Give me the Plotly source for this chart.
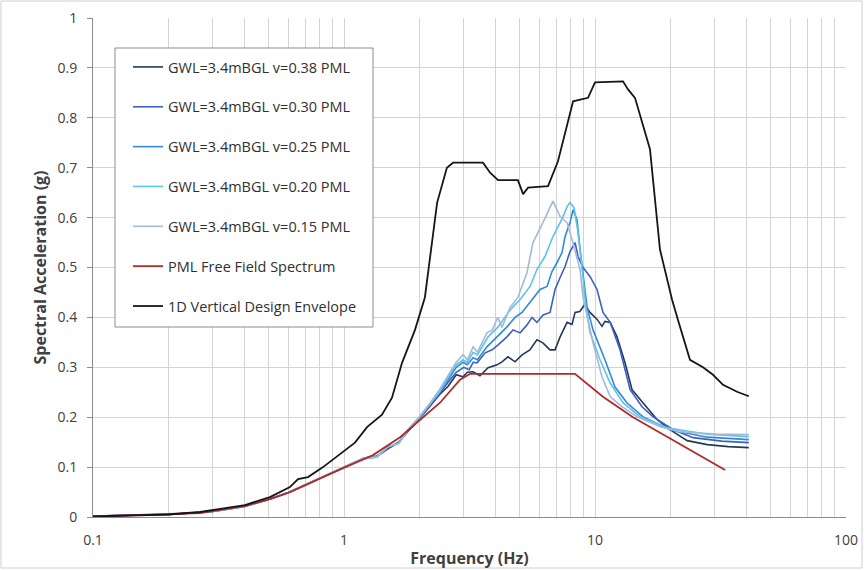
import plotly.graph_objects as go

# ---------------- data ----------------
F_038 = [0.1, 0.2, 0.3, 0.4, 0.5, 0.6, 0.7, 0.8, 1.0, 1.2, 1.35, 1.5, 1.65, 1.8, 2.0, 2.2, 2.4, 2.6,
         2.8, 2.98, 3.1, 3.27, 3.48, 3.75, 4.07, 4.26, 4.5, 4.8, 5.12, 5.5, 5.87, 6.2, 6.62, 6.93,
         7.26, 7.74, 8.1, 8.33, 8.7, 9.1, 9.55, 10.2, 10.66, 10.96, 11.5, 12.24, 13.17, 14.05,
         14.84, 16.1, 17.7, 19.9, 23.3, 28.0, 34.0, 41.0]
SA_038 = [0.002, 0.005, 0.011, 0.021, 0.035, 0.049, 0.064, 0.077, 0.099, 0.117, 0.121, 0.137, 0.149,
          0.172, 0.197, 0.222, 0.245, 0.262, 0.285, 0.281, 0.29, 0.291, 0.283, 0.299, 0.305, 0.311,
          0.321, 0.311, 0.325, 0.335, 0.355, 0.349, 0.335, 0.335, 0.361, 0.39, 0.386, 0.41, 0.412,
          0.426, 0.41, 0.396, 0.382, 0.392, 0.39, 0.361, 0.309, 0.255, 0.241, 0.219, 0.195, 0.175,
          0.153, 0.145, 0.141, 0.139]

F_030 = [0.1, 0.2, 0.3, 0.4, 0.5, 0.6, 0.7, 0.8, 1.0, 1.2, 1.35, 1.5, 1.65, 1.8, 2.0, 2.2, 2.4, 2.6,
         2.8, 3.0, 3.15, 3.27, 3.39, 3.65, 3.89, 4.11, 4.46, 4.71, 5.03, 5.36, 5.61, 5.87, 6.21,
         6.62, 6.93, 7.26, 7.6, 7.95, 8.33, 8.56, 8.96, 9.55, 10.19, 10.76, 11.5, 12.58, 13.8,
         15.4, 17.0, 20.5, 24.6, 32.0, 41.0]
SA_030 = [0.002, 0.005, 0.011, 0.021, 0.035, 0.049, 0.064, 0.077, 0.099, 0.118, 0.122, 0.139, 0.15,
          0.173, 0.198, 0.223, 0.247, 0.27, 0.29, 0.3, 0.295, 0.31, 0.309, 0.329, 0.335, 0.345,
          0.361, 0.375, 0.369, 0.385, 0.4, 0.39, 0.405, 0.41, 0.456, 0.48, 0.502, 0.532, 0.55,
          0.522, 0.5, 0.482, 0.456, 0.41, 0.39, 0.335, 0.255, 0.221, 0.201, 0.175, 0.159, 0.152,
          0.149]

F_025 = [0.1, 0.2, 0.3, 0.4, 0.5, 0.6, 0.7, 0.8, 1.0, 1.2, 1.35, 1.5, 1.65, 1.8, 2.0, 2.2, 2.4, 2.6,
         2.8, 2.98, 3.1, 3.27, 3.4, 3.71, 4.07, 4.46, 4.8, 5.12, 5.5, 6.04, 6.44, 6.74, 7.06, 7.39,
         7.6, 7.95, 8.18, 8.48, 8.72, 8.96, 9.3, 9.82, 10.96, 12.0, 13.4, 15.5, 19.9, 28.0, 41.0]
SA_025 = [0.002, 0.005, 0.011, 0.021, 0.035, 0.049, 0.064, 0.077, 0.099, 0.118, 0.121, 0.14, 0.148,
          0.174, 0.199, 0.225, 0.25, 0.275, 0.3, 0.31, 0.305, 0.319, 0.315, 0.341, 0.361, 0.381,
          0.4, 0.41, 0.43, 0.456, 0.462, 0.492, 0.51, 0.53, 0.562, 0.59, 0.616, 0.596, 0.536,
          0.482, 0.42, 0.375, 0.315, 0.261, 0.229, 0.201, 0.175, 0.16, 0.155]

F_020 = [0.1, 0.2, 0.3, 0.4, 0.5, 0.6, 0.7, 0.8, 1.0, 1.2, 1.35, 1.5, 1.65, 1.8, 2.0, 2.2, 2.4, 2.6,
         2.8, 2.98, 3.1, 3.27, 3.4, 3.75, 4.11, 4.59, 5.03, 5.51, 5.87, 6.32, 6.8, 7.26, 7.46, 7.74,
         7.95, 8.25, 8.56, 8.88, 9.2, 9.55, 10.47, 11.48, 12.93, 15.1, 19.4, 28.0, 41.0]
SA_020 = [0.002, 0.005, 0.011, 0.021, 0.035, 0.049, 0.064, 0.077, 0.099, 0.118, 0.12, 0.141, 0.147,
          0.175, 0.2, 0.226, 0.25, 0.28, 0.305, 0.315, 0.31, 0.33, 0.325, 0.361, 0.381, 0.415,
          0.436, 0.462, 0.496, 0.522, 0.562, 0.59, 0.602, 0.622, 0.63, 0.62, 0.57, 0.5, 0.42,
          0.37, 0.315, 0.269, 0.229, 0.201, 0.179, 0.166, 0.161]

F_015 = [0.1, 0.2, 0.3, 0.4, 0.5, 0.6, 0.7, 0.8, 1.0, 1.2, 1.35, 1.5, 1.65, 1.8, 2.0, 2.2, 2.4, 2.6,
         2.8, 2.98, 3.1, 3.27, 3.4, 3.71, 3.9, 4.1, 4.26, 4.59, 4.93, 5.36, 5.66, 6.2, 6.8, 7.26,
         7.74, 8.1, 8.72, 8.96, 9.82, 10.66, 11.5, 12.8, 14.7, 18.2, 21.8, 30.0, 41.0]
SA_015 = [0.002, 0.005, 0.011, 0.021, 0.035, 0.049, 0.064, 0.077, 0.099, 0.118, 0.12, 0.142, 0.147,
          0.176, 0.202, 0.228, 0.255, 0.285, 0.31, 0.325, 0.315, 0.341, 0.33, 0.369, 0.375, 0.4,
          0.38, 0.42, 0.44, 0.49, 0.55, 0.59, 0.633, 0.602, 0.59, 0.556, 0.496, 0.44, 0.349,
          0.281, 0.241, 0.221, 0.201, 0.181, 0.171, 0.166, 0.165]

F_PML = [0.1, 0.2, 0.267, 0.403, 0.507, 0.609, 0.712, 0.825, 0.991, 1.305, 1.672, 2.064, 2.413,
         2.9, 3.18, 8.32, 10.76, 14.17, 21.2, 33.0]
SA_PML = [0.001, 0.005, 0.008, 0.022, 0.036, 0.05, 0.066, 0.08, 0.098, 0.124, 0.16, 0.199, 0.229,
          0.275, 0.287, 0.287, 0.241, 0.2, 0.149, 0.094]

F_ENV = [0.1, 0.2, 0.267, 0.403, 0.507, 0.609, 0.656, 0.719, 0.825, 0.938, 1.106, 1.235, 1.417,
         1.553, 1.703, 1.918, 2.10, 2.35, 2.57, 2.72, 3.58, 3.82, 4.11, 4.93, 5.17, 5.41, 6.5,
         7.12, 7.81, 8.18, 9.38, 10.0, 12.93, 13.54, 14.43, 15.39, 16.56, 18.15, 20.27, 21.41,
         23.9, 26.93, 29.52, 32.36, 36.8, 41.0]
SA_ENV = [0.001, 0.005, 0.01, 0.024, 0.04, 0.06, 0.076, 0.08, 0.1, 0.122, 0.149, 0.18, 0.205,
          0.239, 0.309, 0.375, 0.44, 0.63, 0.70, 0.71, 0.71, 0.69, 0.675, 0.675, 0.647, 0.66,
          0.663, 0.713, 0.79, 0.833, 0.84, 0.871, 0.873, 0.857, 0.84, 0.793, 0.737, 0.536, 0.436,
          0.395, 0.315, 0.30, 0.285, 0.265, 0.251, 0.242]

NAMES = ["GWL=3.4mBGL v=0.38 PML", "GWL=3.4mBGL v=0.30 PML", "GWL=3.4mBGL v=0.25 PML",
         "GWL=3.4mBGL v=0.20 PML", "GWL=3.4mBGL v=0.15 PML", "PML Free Field Spectrum",
         "1D Vertical Design Envelope"]
X_TICKS = [0.1, 1, 10, 100]
X_TICK_TEXT = ["0.1", "1", "10", "100"]
Y_TICKS = [0, 0.1, 0.2, 0.3, 0.4, 0.5, 0.6, 0.7, 0.8, 0.9, 1]
Y_TICK_TEXT = ["0", "0.1", "0.2", "0.3", "0.4", "0.5", "0.6", "0.7", "0.8", "0.9", "1"]

# ---------------- figure ----------------
series = [(F_038, SA_038), (F_030, SA_030), (F_025, SA_025), (F_020, SA_020), (F_015, SA_015),
          (F_PML, SA_PML), (F_ENV, SA_ENV)]
colors = ["#24385c", "#3d5fc4", "#2f8ad8", "#5cc3ea", "#a2bad8", "#b02a2a", "#161616"]
widths = [1.6, 1.6, 1.6, 1.6, 1.6, 1.8, 1.8]

fig = go.Figure()
for i, (fx, fy) in enumerate(series):
    fig.add_trace(go.Scatter(x=fx, y=fy, mode="lines", name=NAMES[i], legendgroup=f"g{i}",
                             line=dict(color=colors[i], width=widths[i])))

minor_vals = []
for dec in [0.1, 1, 10]:
    for k in range(2, 10):
        minor_vals.append(round(dec * k, 6))

W, H = 864, 570
L, R, T, B = 93, 18, 18, 53
PW, PH = W - L - R, H - T - B


def px(x):
    return (x - L) / PW


def py(y):
    return (H - B - y) / PH


FONT = "Open Sans"
fig.update_layout(
    width=W, height=H,
    margin=dict(l=L, r=R, t=T, b=B, autoexpand=False),
    paper_bgcolor="white", plot_bgcolor="white",
    font=dict(family=FONT, color="#404040", size=13),
    showlegend=True,
    legend=dict(x=px(128), y=py(51), xanchor="left", yanchor="top",
                bgcolor="rgba(0,0,0,0)", borderwidth=0,
                font=dict(family=FONT, size=14.5, color="#303030"),
                tracegroupgap=18, itemwidth=30),
)
fig.update_xaxes(type="log", range=[-1, 2], tickvals=X_TICKS, ticktext=X_TICK_TEXT,
                 automargin=False,
                 showgrid=True, gridcolor="#d4d4d4", gridwidth=1,
                 minor=dict(tickvals=minor_vals, showgrid=True, gridcolor="#d4d4d4", gridwidth=1,
                            ticks=""),
                 showline=True, linecolor="#8c8c8c", linewidth=1, ticks="", zeroline=False,
                 ticklabelstandoff=10, ticklabeloverflow="allow",
                 tickfont=dict(size=14, color="#404040"),
                 title=dict(text="<b>Frequency (Hz)</b>", font=dict(size=16, color="#404040"),
                            standoff=5))
fig.update_yaxes(range=[0, 1], tickvals=Y_TICKS, ticktext=Y_TICK_TEXT,
                 automargin=False,
                 showgrid=True, gridcolor="#d4d4d4", gridwidth=1,
                 showline=True, linecolor="#8c8c8c", linewidth=1,
                 ticks="outside", ticklen=5, tickcolor="#8c8c8c", zeroline=False,
                 ticklabelstandoff=7, ticklabeloverflow="allow",
                 tickfont=dict(size=14, color="#404040"),
                 title=dict(text="<b>Spectral Acceleration (g)</b>",
                            font=dict(size=16, color="#404040"), standoff=6))

# legend frame (white box with grey border, drawn over the grid)
fig.add_shape(type="rect", xref="paper", yref="paper",
              x0=px(115), x1=px(373), y0=py(327), y1=py(48),
              line=dict(color="#8c8c8c", width=1), fillcolor="white", layer="above")
# thin outer frame of the chart area
fig.add_shape(type="rect", xref="paper", yref="paper",
              x0=px(1), x1=px(862), y0=py(568), y1=py(1),
              line=dict(color="#cfcfcf", width=1), layer="below")

fig.write_html("out.html", config={"displayModeBar": False},
               post_script="document.body.style.margin='0';")
